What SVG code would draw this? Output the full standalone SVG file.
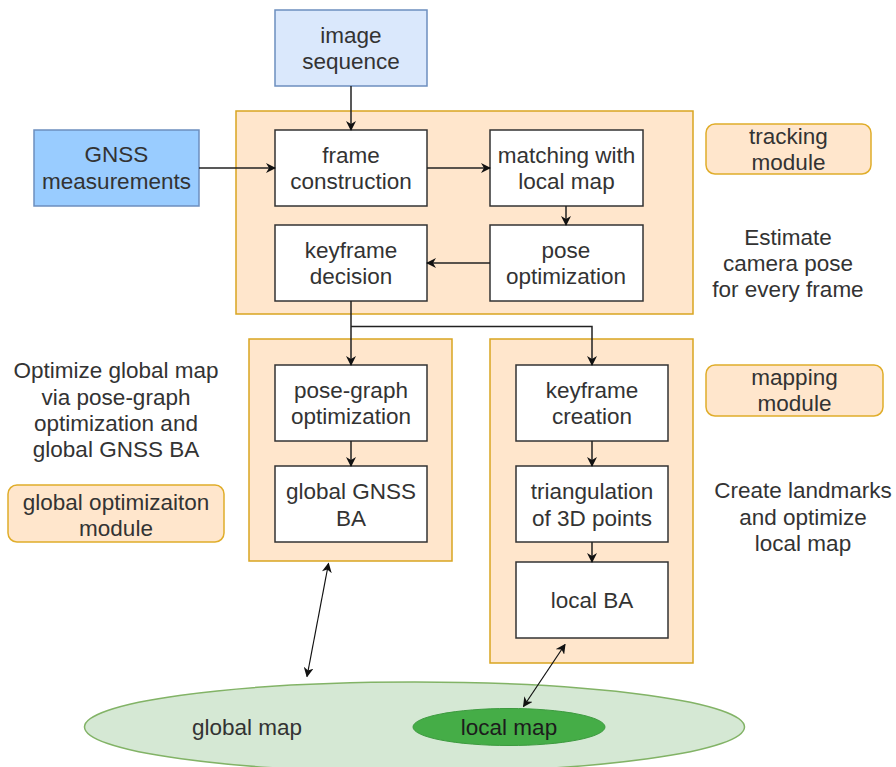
<svg xmlns="http://www.w3.org/2000/svg" width="896" height="767" viewBox="0 0 896 767">
  <style>
    text { font-family: "Liberation Sans", Arial, Helvetica, sans-serif; font-size: 22.5px; fill: #333333; text-anchor: middle; }
    .module { fill: #ffe6cc; stroke: #d9a520; stroke-width: 1.5; }
    .step { fill: #ffffff; stroke: #333333; stroke-width: 1.5; }
    .tag { fill: #ffe6cc; stroke: #e0ad2a; stroke-width: 1.5; }
    .edge { fill: none; stroke: #222222; stroke-width: 1.5; }
    .link { fill: none; stroke: #111111; stroke-width: 1.2; }
  </style>
  <defs>
    <marker id="arrow" viewBox="0 0 10 10" refX="9" refY="5" markerWidth="10" markerHeight="10" markerUnits="userSpaceOnUse" orient="auto">
      <path d="M0,0 L10,5 L0,10 L3,5 Z" fill="#111111"/>
    </marker>
    <marker id="tip" viewBox="0 0 10 10" refX="9" refY="5" markerWidth="10" markerHeight="10" markerUnits="userSpaceOnUse" orient="auto-start-reverse">
      <path d="M0,0 L10,5 L0,10 L3,5 Z" fill="#111111"/>
    </marker>
  </defs>

  <!-- module containers -->
  <g id="tracking-module">
    <rect class="module" x="236" y="111" width="457" height="203"/>
  </g>
  <g id="global-optimization-module">
    <rect class="module" x="249" y="339" width="203" height="222"/>
  </g>
  <g id="mapping-module">
    <rect class="module" x="490" y="339" width="203" height="324"/>
  </g>

  <!-- maps -->
  <g id="global-map">
    <ellipse cx="414.5" cy="727" rx="330" ry="45" fill="#d5e8d4" stroke="#82b366" stroke-width="1.5"/>
    <text x="247" y="735">global map</text>
  </g>
  <g id="local-map">
    <ellipse cx="509" cy="727" rx="96" ry="18.5" fill="#45ad47" stroke="#3d9a3f" stroke-width="1"/>
    <text x="509" y="735" style="fill:#1c1c1c">local map</text>
  </g>

  <!-- inputs -->
  <g id="image-sequence">
    <rect x="275" y="10" width="152" height="76" fill="#dae8fc" stroke="#6c8ebf" stroke-width="1.5"/>
    <text x="351" y="43">image</text>
    <text x="351" y="69">sequence</text>
  </g>
  <g id="gnss-measurements">
    <rect x="34" y="130" width="165" height="76" fill="#99ccff" stroke="#6c8ebf" stroke-width="1.5"/>
    <text x="116.5" y="162">GNSS</text>
    <text x="116.5" y="189">measurements</text>
  </g>

  <!-- tracking steps -->
  <g id="frame-construction">
    <rect class="step" x="275" y="130" width="152" height="76"/>
    <text x="351" y="163">frame</text>
    <text x="351" y="189">construction</text>
  </g>
  <g id="matching-local-map">
    <rect class="step" x="490" y="130" width="153" height="76"/>
    <text x="566.5" y="163">matching with</text>
    <text x="566.5" y="189">local map</text>
  </g>
  <g id="pose-optimization">
    <rect class="step" x="490" y="225" width="153" height="76"/>
    <text x="566" y="258">pose</text>
    <text x="566" y="284">optimization</text>
  </g>
  <g id="keyframe-decision">
    <rect class="step" x="275" y="225" width="152" height="76"/>
    <text x="351" y="258">keyframe</text>
    <text x="351" y="284">decision</text>
  </g>

  <!-- global optimization steps -->
  <g id="pose-graph-optimization">
    <rect class="step" x="275" y="365" width="152" height="76"/>
    <text x="351" y="398">pose-graph</text>
    <text x="351" y="424">optimization</text>
  </g>
  <g id="global-gnss-ba">
    <rect class="step" x="275" y="466" width="152" height="76"/>
    <text x="351" y="499">global GNSS</text>
    <text x="351" y="526">BA</text>
  </g>

  <!-- mapping steps -->
  <g id="keyframe-creation">
    <rect class="step" x="516" y="365" width="152" height="76"/>
    <text x="592" y="398">keyframe</text>
    <text x="592" y="424">creation</text>
  </g>
  <g id="triangulation">
    <rect class="step" x="516" y="466" width="152" height="76"/>
    <text x="592" y="499">triangulation</text>
    <text x="592" y="526">of 3D points</text>
  </g>
  <g id="local-ba">
    <rect class="step" x="516" y="562" width="152" height="76"/>
    <text x="592" y="608">local BA</text>
  </g>

  <!-- side labels -->
  <g id="tracking-label">
    <rect class="tag" x="706" y="124" width="165" height="50" rx="9"/>
    <text x="788.5" y="144">tracking</text>
    <text x="788.5" y="170">module</text>
  </g>
  <g id="tracking-note">
    <text x="788" y="245">Estimate</text>
    <text x="788" y="271">camera pose</text>
    <text x="788" y="297">for every frame</text>
  </g>
  <g id="mapping-label">
    <rect class="tag" x="706" y="365" width="177" height="51" rx="9"/>
    <text x="794.5" y="385">mapping</text>
    <text x="794.5" y="411">module</text>
  </g>
  <g id="mapping-note">
    <text x="803" y="498">Create landmarks</text>
    <text x="803" y="525">and optimize</text>
    <text x="803" y="551">local map</text>
  </g>
  <g id="global-note">
    <text x="116" y="378">Optimize global map</text>
    <text x="116" y="405">via pose-graph</text>
    <text x="116" y="431">optimization and</text>
    <text x="116" y="457">global GNSS BA</text>
  </g>
  <g id="global-label">
    <rect class="tag" x="8" y="485" width="216" height="57" rx="9"/>
    <text x="116" y="510">global optimizaiton</text>
    <text x="116" y="536">module</text>
  </g>

  <!-- connectors -->
  <g id="connectors">
    <path class="edge" d="M351,86 V130" marker-end="url(#arrow)"/>
    <path class="edge" d="M199,168 H275" marker-end="url(#arrow)"/>
    <path class="edge" d="M427,168 H490" marker-end="url(#arrow)"/>
    <path class="edge" d="M566,206 V225" marker-end="url(#arrow)"/>
    <path class="edge" d="M490,263 H427" marker-end="url(#arrow)"/>
    <path class="edge" d="M351,301 V365" marker-end="url(#arrow)"/>
    <path class="edge" d="M351,326.5 H592 V365" marker-end="url(#arrow)"/>
    <path class="edge" d="M351,441 V466" marker-end="url(#arrow)"/>
    <path class="edge" d="M592,441 V466" marker-end="url(#arrow)"/>
    <path class="edge" d="M592,542 V562" marker-end="url(#arrow)"/>
    <path class="link" d="M328.5,563.5 L307,676.5" marker-start="url(#tip)" marker-end="url(#tip)"/>
    <path class="link" d="M565,644.5 L523.5,706.5" marker-start="url(#tip)" marker-end="url(#tip)"/>
  </g>
</svg>
